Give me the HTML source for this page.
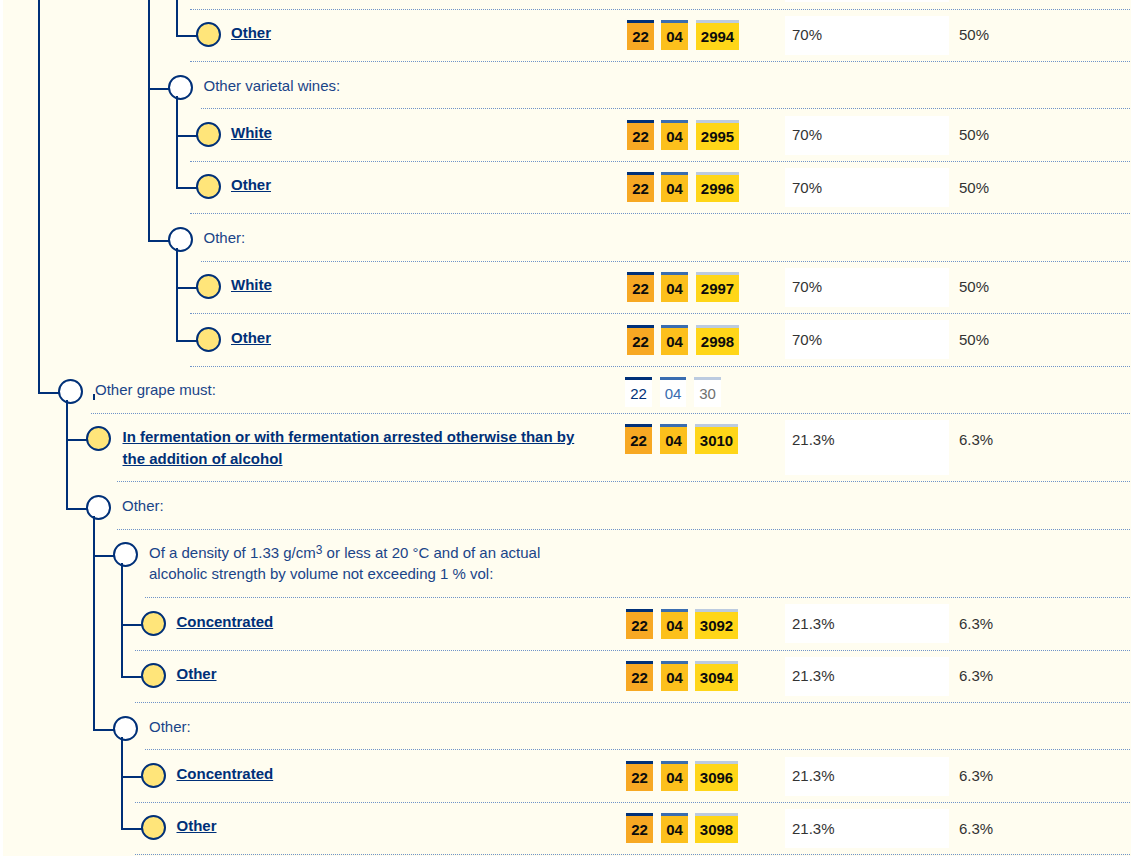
<!DOCTYPE html>
<html><head><meta charset="utf-8"><title>Commodity tree</title>
<style>
html,body{margin:0;padding:0;background:#fff;}
body{width:1131px;height:856px;overflow:hidden;position:relative;font-family:"Liberation Sans",Arial,sans-serif;font-size:15px;}
#pg{position:absolute;left:3px;top:0;width:1128px;height:856px;background:#fffdf0;}
.d{position:absolute;right:0;height:1px;background:repeating-linear-gradient(90deg,#6f93c8 0 1px,transparent 1px 2px);}
.d0{position:absolute;width:1px;height:1px;background:#6f93c8;}
.w{position:absolute;left:785px;width:164px;background:#fff;}
.t{position:absolute;white-space:nowrap;color:#1a4488;line-height:21px;}
.t a{color:#003078;font-weight:bold;text-decoration:underline;text-underline-offset:auto;}
.t.lk{line-height:22px;}
.t sup{font-size:12px;line-height:0;vertical-align:4px;}
.c{position:absolute;height:27px;border-top:3px solid;font-weight:bold;color:#0b0c0c;text-align:center;line-height:27px;}
.c1{background:#f7a823;border-color:#003078;}
.c2{background:#fcc01c;border-color:#3a6db0;}
.c3{background:#ffd618;border-color:#bccbe0;}
.h{background:#fff;font-weight:normal;}
.du{position:absolute;color:#333333;line-height:20px;white-space:nowrap;}
.tick{position:absolute;left:93px;top:394px;width:2px;height:6px;background:#003078;}
svg{position:absolute;left:0;top:0;}
</style></head><body>
<div id="pg"></div>

<div class="w" style="top:0;height:2px"></div>
<div class="w" style="top:16px;height:39px"></div>
<div class="w" style="top:116px;height:39px"></div>
<div class="w" style="top:168px;height:39px"></div>
<div class="w" style="top:268px;height:39px"></div>
<div class="w" style="top:320px;height:39px"></div>
<div class="w" style="top:420px;height:55px"></div>
<div class="w" style="top:604px;height:39px"></div>
<div class="w" style="top:657px;height:39px"></div>
<div class="w" style="top:757px;height:39px"></div>
<div class="w" style="top:809px;height:39px"></div>
<div class="d0" style="top:9px;left:190px"></div>
<div class="d" style="top:9px;left:191px"></div>
<div class="d0" style="top:61px;left:190px"></div>
<div class="d" style="top:61px;left:191px"></div>
<div class="d" style="top:108px;left:201px"></div>
<div class="d0" style="top:161px;left:190px"></div>
<div class="d" style="top:161px;left:191px"></div>
<div class="d0" style="top:213px;left:190px"></div>
<div class="d" style="top:213px;left:191px"></div>
<div class="d" style="top:261px;left:201px"></div>
<div class="d0" style="top:313px;left:190px"></div>
<div class="d" style="top:313px;left:191px"></div>
<div class="d0" style="top:366px;left:190px"></div>
<div class="d" style="top:366px;left:191px"></div>
<div class="d" style="top:413px;left:91px"></div>
<div class="d" style="top:481px;left:117px"></div>
<div class="d" style="top:529px;left:117px"></div>
<div class="d" style="top:597px;left:145px"></div>
<div class="d" style="top:650px;left:135px"></div>
<div class="d" style="top:702px;left:135px"></div>
<div class="d" style="top:749px;left:145px"></div>
<div class="d" style="top:802px;left:135px"></div>
<div class="d" style="top:854px;left:135px"></div>
<svg width="1131" height="856" viewBox="0 0 1131 856">
<rect x="38" y="0" width="2" height="394.0" fill="#003078"/>
<rect x="148" y="0" width="2" height="242.0" fill="#003078"/>
<rect x="176" y="0" width="2" height="37.0" fill="#003078"/>
<rect x="176" y="35.0" width="21.0" height="2" fill="#003078"/>
<rect x="148" y="88.0" width="21.0" height="2" fill="#003078"/>
<rect x="176" y="135.0" width="21.0" height="2" fill="#003078"/>
<rect x="176" y="187.0" width="21.0" height="2" fill="#003078"/>
<rect x="148" y="240.0" width="21.0" height="2" fill="#003078"/>
<rect x="176" y="287.0" width="21.0" height="2" fill="#003078"/>
<rect x="176" y="340.0" width="21.0" height="2" fill="#003078"/>
<rect x="38" y="392.0" width="21.0" height="2" fill="#003078"/>
<rect x="66" y="439.0" width="21.0" height="2" fill="#003078"/>
<rect x="66" y="508.0" width="21.0" height="2" fill="#003078"/>
<rect x="93" y="555.0" width="21.0" height="2" fill="#003078"/>
<rect x="121" y="624.0" width="21.0" height="2" fill="#003078"/>
<rect x="121" y="676.0" width="21.0" height="2" fill="#003078"/>
<rect x="93" y="729.0" width="21.0" height="2" fill="#003078"/>
<rect x="121" y="776.0" width="21.0" height="2" fill="#003078"/>
<rect x="121" y="828.0" width="21.0" height="2" fill="#003078"/>
<circle cx="208.5" cy="34.5" r="11.5" fill="#ffe57a" stroke="#003078" stroke-width="2"/>
<circle cx="180.5" cy="87.5" r="11.5" fill="#ffffff" stroke="#003078" stroke-width="2"/>
<circle cx="208.5" cy="134.5" r="11.5" fill="#ffe57a" stroke="#003078" stroke-width="2"/>
<circle cx="208.5" cy="186.5" r="11.5" fill="#ffe57a" stroke="#003078" stroke-width="2"/>
<circle cx="180.5" cy="239.5" r="11.5" fill="#ffffff" stroke="#003078" stroke-width="2"/>
<circle cx="208.5" cy="286.5" r="11.5" fill="#ffe57a" stroke="#003078" stroke-width="2"/>
<circle cx="208.5" cy="339.5" r="11.5" fill="#ffe57a" stroke="#003078" stroke-width="2"/>
<circle cx="70.5" cy="391.5" r="11.5" fill="#ffffff" stroke="#003078" stroke-width="2"/>
<circle cx="98.5" cy="438.5" r="11.5" fill="#ffe57a" stroke="#003078" stroke-width="2"/>
<circle cx="98.5" cy="507.5" r="11.5" fill="#ffffff" stroke="#003078" stroke-width="2"/>
<circle cx="125.5" cy="554.5" r="11.5" fill="#ffffff" stroke="#003078" stroke-width="2"/>
<circle cx="153.5" cy="623.5" r="11.5" fill="#ffe57a" stroke="#003078" stroke-width="2"/>
<circle cx="153.5" cy="675.5" r="11.5" fill="#ffe57a" stroke="#003078" stroke-width="2"/>
<circle cx="125.5" cy="728.5" r="11.5" fill="#ffffff" stroke="#003078" stroke-width="2"/>
<circle cx="153.5" cy="775.5" r="11.5" fill="#ffe57a" stroke="#003078" stroke-width="2"/>
<circle cx="153.5" cy="827.5" r="11.5" fill="#ffe57a" stroke="#003078" stroke-width="2"/>
<rect x="176" y="96.0" width="2" height="93.0" fill="#003078"/>
<rect x="176" y="248.0" width="2" height="94.0" fill="#003078"/>
<rect x="66" y="400.0" width="2" height="110.0" fill="#003078"/>
<rect x="93" y="516.0" width="2" height="215.0" fill="#003078"/>
<rect x="121" y="563.0" width="2" height="115.0" fill="#003078"/>
<rect x="121" y="737.0" width="2" height="93.0" fill="#003078"/>
</svg>
<div class="tick"></div>
<div class="t lk" style="left:231.00px;top:21.80px"><a>Other</a></div>
<div class="c c1" style="left:627px;top:20px;width:27px">22</div>
<div class="c c2" style="left:661px;top:20px;width:27px">04</div>
<div class="c c3" style="left:696px;top:20px;width:43px">2994</div>
<div class="du" style="left:792px;top:24.80px">70%</div>
<div class="du" style="left:959px;top:24.80px">50%</div>
<div class="t" style="left:203.50px;top:75.30px">Other varietal wines:</div>
<div class="t lk" style="left:231.00px;top:121.80px"><a>White</a></div>
<div class="c c1" style="left:627px;top:120px;width:27px">22</div>
<div class="c c2" style="left:661px;top:120px;width:27px">04</div>
<div class="c c3" style="left:696px;top:120px;width:43px">2995</div>
<div class="du" style="left:792px;top:124.80px">70%</div>
<div class="du" style="left:959px;top:124.80px">50%</div>
<div class="t lk" style="left:231.00px;top:173.80px"><a>Other</a></div>
<div class="c c1" style="left:627px;top:172px;width:27px">22</div>
<div class="c c2" style="left:661px;top:172px;width:27px">04</div>
<div class="c c3" style="left:696px;top:172px;width:43px">2996</div>
<div class="du" style="left:792px;top:177.80px">70%</div>
<div class="du" style="left:959px;top:177.80px">50%</div>
<div class="t" style="left:203.50px;top:227.30px">Other:</div>
<div class="t lk" style="left:231.00px;top:273.80px"><a>White</a></div>
<div class="c c1" style="left:627px;top:272px;width:27px">22</div>
<div class="c c2" style="left:661px;top:272px;width:27px">04</div>
<div class="c c3" style="left:696px;top:272px;width:43px">2997</div>
<div class="du" style="left:792px;top:276.80px">70%</div>
<div class="du" style="left:959px;top:276.80px">50%</div>
<div class="t lk" style="left:231.00px;top:326.80px"><a>Other</a></div>
<div class="c c1" style="left:627px;top:325px;width:27px">22</div>
<div class="c c2" style="left:661px;top:325px;width:27px">04</div>
<div class="c c3" style="left:696px;top:325px;width:43px">2998</div>
<div class="du" style="left:792px;top:329.80px">70%</div>
<div class="du" style="left:959px;top:329.80px">50%</div>
<div class="t" style="left:95.00px;top:379.30px">Other grape must:</div>
<div class="c c1 h" style="left:625px;top:377px;width:27px;color:#003078">22</div>
<div class="c c2 h" style="left:660px;top:377px;width:26px;color:#3a6db0">04</div>
<div class="c c3 h" style="left:694px;top:377px;width:27px;color:#707070">30</div>
<div class="t lk" style="left:122.50px;top:425.80px"><a>In fermentation or with fermentation arrested otherwise than by<br>the addition of alcohol</a></div>
<div class="c c1" style="left:625px;top:424px;width:27px">22</div>
<div class="c c2" style="left:660px;top:424px;width:27px">04</div>
<div class="c c3" style="left:695px;top:424px;width:43px">3010</div>
<div class="du" style="left:792px;top:429.80px">21.3%</div>
<div class="du" style="left:959px;top:429.80px">6.3%</div>
<div class="t" style="left:122.00px;top:495.30px">Other:</div>
<div class="t" style="left:149.00px;top:542.30px">Of a density of 1.33 g/cm<sup>3</sup> or less at 20 °C and of an actual<br>alcoholic strength by volume not exceeding 1 % vol:</div>
<div class="t lk" style="left:176.50px;top:610.80px"><a>Concentrated</a></div>
<div class="c c1" style="left:626px;top:609px;width:27px">22</div>
<div class="c c2" style="left:661px;top:609px;width:27px">04</div>
<div class="c c3" style="left:695px;top:609px;width:43px">3092</div>
<div class="du" style="left:792px;top:613.80px">21.3%</div>
<div class="du" style="left:959px;top:613.80px">6.3%</div>
<div class="t lk" style="left:176.50px;top:662.80px"><a>Other</a></div>
<div class="c c1" style="left:626px;top:661px;width:27px">22</div>
<div class="c c2" style="left:661px;top:661px;width:27px">04</div>
<div class="c c3" style="left:695px;top:661px;width:43px">3094</div>
<div class="du" style="left:792px;top:665.80px">21.3%</div>
<div class="du" style="left:959px;top:665.80px">6.3%</div>
<div class="t" style="left:149.00px;top:716.30px">Other:</div>
<div class="t lk" style="left:176.50px;top:762.80px"><a>Concentrated</a></div>
<div class="c c1" style="left:626px;top:761px;width:27px">22</div>
<div class="c c2" style="left:661px;top:761px;width:27px">04</div>
<div class="c c3" style="left:695px;top:761px;width:43px">3096</div>
<div class="du" style="left:792px;top:765.80px">21.3%</div>
<div class="du" style="left:959px;top:765.80px">6.3%</div>
<div class="t lk" style="left:176.50px;top:814.80px"><a>Other</a></div>
<div class="c c1" style="left:626px;top:813px;width:27px">22</div>
<div class="c c2" style="left:661px;top:813px;width:27px">04</div>
<div class="c c3" style="left:695px;top:813px;width:43px">3098</div>
<div class="du" style="left:792px;top:818.80px">21.3%</div>
<div class="du" style="left:959px;top:818.80px">6.3%</div>
</body></html>
